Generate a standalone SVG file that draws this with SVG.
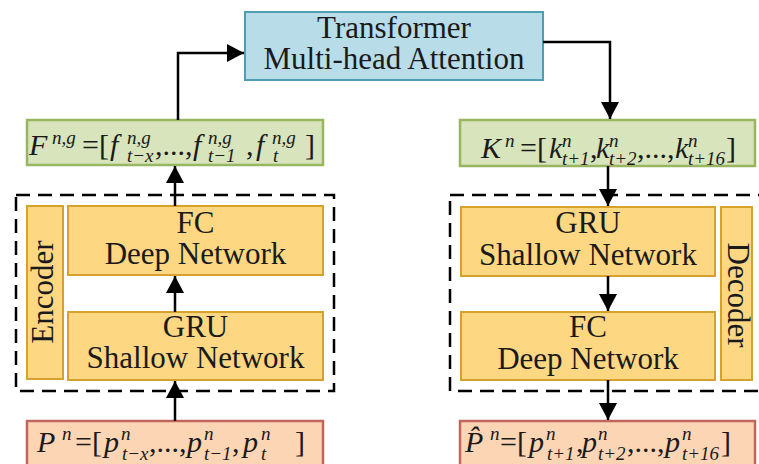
<svg xmlns="http://www.w3.org/2000/svg" width="759" height="464" viewBox="0 0 759 464">
<defs>
<marker id="ah" markerUnits="userSpaceOnUse" markerWidth="18" markerHeight="18" refX="17" refY="9" orient="auto">
<path d="M0,0 L17,9 L0,18 z" fill="#000"/>
</marker>
<style>
text{font-family:'Liberation Serif','DejaVu Serif',serif}
.lbl{font-size:31px;fill:#1a1a1a;text-anchor:middle}
.m{font-size:30px;fill:#1a1a1a}
.i{font-style:italic}
.s{font-size:19px;font-style:italic}
.blue{fill:#b8dde8;stroke:#4e9fb3;stroke-width:2}
.green{fill:#d7e4bc;stroke:#98b55f;stroke-width:2.5}
.yellow{fill:#fdd782;stroke:#d6a22b;stroke-width:2}
.orange{fill:#fcd5b4;stroke:#c0665a;stroke-width:2.5}
.dash{fill:none;stroke:#000;stroke-width:2.5;stroke-dasharray:14 8}
.conn{fill:none;stroke:#000;stroke-width:2.5;marker-end:url(#ah)}
</style>
</defs>

<g id="encoder-frame"><rect class="dash" x="16" y="195" width="318" height="196"/></g>
<g id="decoder-frame"><rect class="dash" x="450" y="195" width="320" height="196"/></g>

<g id="transformer">
<rect class="blue" x="245" y="12" width="298" height="68"/>
<text class="lbl" x="394" y="38">Transformer</text>
<text class="lbl" x="394" y="69">Multi-head Attention</text>
</g>

<g id="F">
<rect class="green" x="27" y="120" width="296" height="45"/>
<text class="m" y="155"><tspan class="i" x="29">F</tspan><tspan class="s" x="52" y="144">n,g</tspan><tspan x="82" y="155">=[</tspan><tspan class="i" x="110">f</tspan><tspan class="s" x="127" y="144">n,g</tspan><tspan class="s" x="127" y="162">t−x</tspan><tspan x="155" y="155">,...,</tspan><tspan class="i" x="193">f</tspan><tspan class="s" x="208" y="144">n,g</tspan><tspan class="s" x="208" y="162">t−1</tspan><tspan x="246" y="155">,</tspan><tspan class="i" x="256">f</tspan><tspan class="s" x="272" y="144">n,g</tspan><tspan class="s" x="273" y="162">t</tspan><tspan x="305" y="155">]</tspan></text>
</g>

<g id="encoder-label">
<rect class="yellow" x="27" y="206" width="36" height="173"/>
<text class="lbl" transform="translate(53,292) rotate(-90)">Encoder</text>
</g>

<g id="enc-fc">
<rect class="yellow" x="68" y="206" width="255" height="69"/>
<text class="lbl" x="195.5" y="233">FC</text>
<text class="lbl" x="195.5" y="264">Deep Network</text>
</g>

<g id="enc-gru">
<rect class="yellow" x="68" y="312" width="255" height="68"/>
<text class="lbl" x="195.5" y="337">GRU</text>
<text class="lbl" x="195.5" y="368">Shallow Network</text>
</g>

<g id="P">
<rect class="orange" x="27" y="421" width="296" height="55"/>
<text class="m" y="452"><tspan class="i" x="37">P</tspan><tspan class="s" x="62" y="440">n</tspan><tspan x="75" y="452">=[</tspan><tspan class="i" x="104">p</tspan><tspan class="s" x="121" y="440">n</tspan><tspan class="s" x="122" y="460">t−x</tspan><tspan x="149" y="452">,...,</tspan><tspan class="i" x="187">p</tspan><tspan class="s" x="204" y="440">n</tspan><tspan class="s" x="204" y="460">t−1</tspan><tspan x="232" y="452">,</tspan><tspan class="i" x="243">p</tspan><tspan class="s" x="261" y="440">n</tspan><tspan class="s" x="261" y="460">t</tspan><tspan x="295" y="452">]</tspan></text>
</g>

<g id="K">
<rect class="green" x="460" y="120" width="295" height="46"/>
<text class="m" y="158"><tspan class="i" x="481">K</tspan><tspan class="s" x="505" y="147">n</tspan><tspan x="520" y="158">=[</tspan><tspan class="i" x="549">k</tspan><tspan class="s" x="562" y="147">n</tspan><tspan class="s" x="562" y="165">t+1</tspan><tspan x="590" y="158">,</tspan><tspan class="i" x="596">k</tspan><tspan class="s" x="609" y="147">n</tspan><tspan class="s" x="609" y="165">t+2</tspan><tspan x="637" y="158">,...,</tspan><tspan class="i" x="675">k</tspan><tspan class="s" x="688" y="147">n</tspan><tspan class="s" x="688" y="165">t+16</tspan><tspan x="726" y="158">]</tspan></text>
</g>

<g id="dec-gru">
<rect class="yellow" x="461" y="207" width="254" height="69"/>
<text class="lbl" x="588" y="233">GRU</text>
<text class="lbl" x="588" y="265">Shallow Network</text>
</g>

<g id="dec-fc">
<rect class="yellow" x="461" y="312" width="254" height="68"/>
<text class="lbl" x="588" y="337">FC</text>
<text class="lbl" x="588" y="369">Deep Network</text>
</g>

<g id="decoder-label">
<rect class="yellow" x="721" y="207" width="31" height="173"/>
<text class="lbl" transform="translate(728,295) rotate(90)">Decoder</text>
</g>

<g id="Phat">
<rect class="orange" x="460" y="421" width="295" height="55"/>
<text class="m" y="452"><tspan class="i" x="465">P̂</tspan><tspan class="s" x="490" y="440">n</tspan><tspan x="500" y="452">=[</tspan><tspan class="i" x="529">p</tspan><tspan class="s" x="546" y="440">n</tspan><tspan class="s" x="547" y="460">t+1</tspan><tspan x="576" y="452">,</tspan><tspan class="i" x="582">p</tspan><tspan class="s" x="598" y="440">n</tspan><tspan class="s" x="598" y="460">t+2</tspan><tspan x="627" y="452">,...,</tspan><tspan class="i" x="665">p</tspan><tspan class="s" x="682" y="440">n</tspan><tspan class="s" x="682" y="460">t+16</tspan><tspan x="721" y="452">]</tspan></text>
</g>

<g id="connectors">
<line class="conn" x1="175" y1="421" x2="175" y2="381"/>
<line class="conn" x1="175" y1="312" x2="175" y2="276"/>
<line class="conn" x1="175" y1="206" x2="175" y2="166"/>
<path class="conn" d="M178,120 V53 H244"/>
<path class="conn" d="M543,42 H610 V119"/>
<line class="conn" x1="608" y1="166" x2="608" y2="206"/>
<line class="conn" x1="608" y1="276" x2="608" y2="311"/>
<line class="conn" x1="608" y1="380" x2="608" y2="420"/>
</g>
</svg>
